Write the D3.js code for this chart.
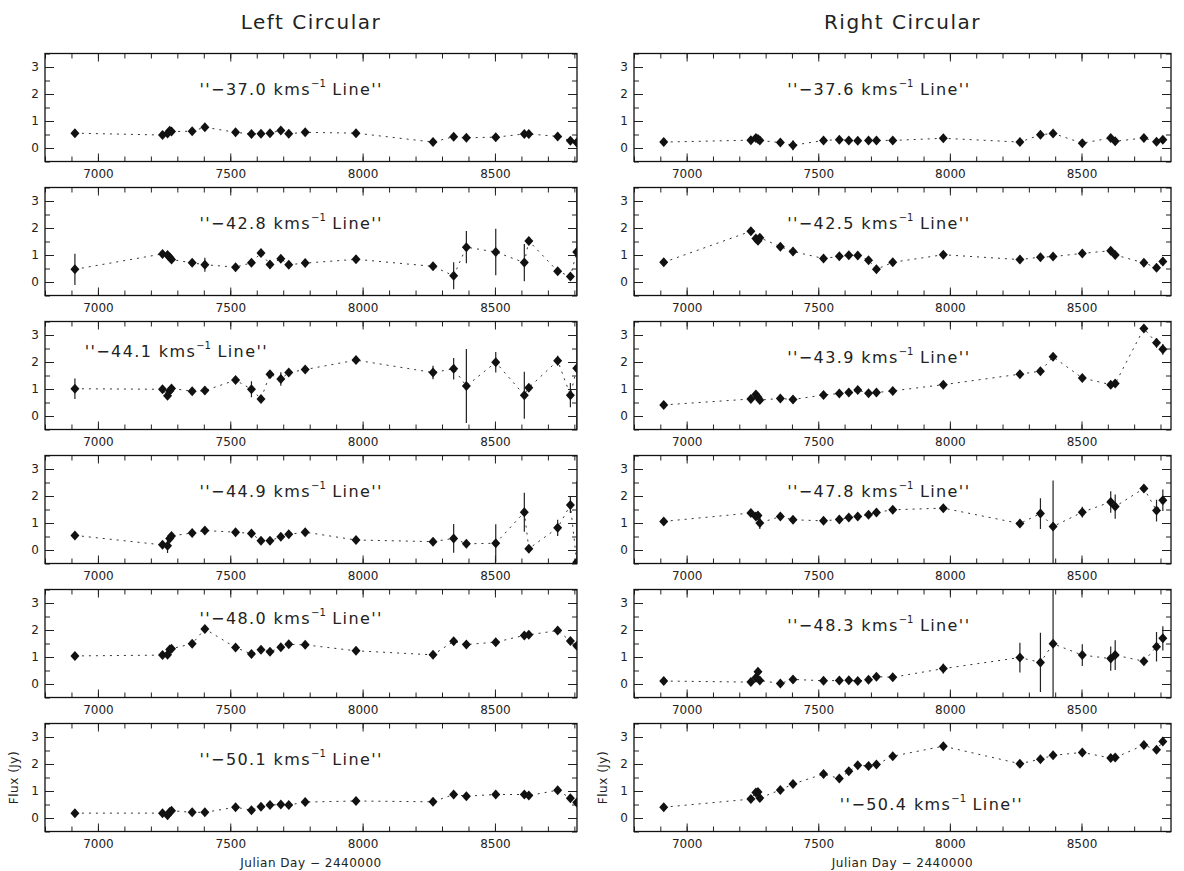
<!DOCTYPE html>
<html>
<head>
<meta charset="utf-8">
<script src="https://cdn.jsdelivr.net/npm/d3@7"></script>
<style>
  body { margin: 0; background: #fff; }
  svg { display: block; }
  text { font-family: "DejaVu Sans", "Liberation Sans", sans-serif; fill: #222; }
</style>
</head>
<body>
<svg id="chart" width="1184" height="871"></svg>
<script>
// Observation epochs (Julian Day - 2440000), shared by every maser line
const julianDays = [6913, 7244, 7263, 7271, 7278, 7356, 7404, 7520, 7580, 7616, 7650, 7691,
                    7721, 7783, 7975, 8266, 8344, 8392, 8503, 8611, 8628, 8737, 8785, 8809];

// Left circular polarisation: flux (Jy) and 1-sigma errors (0 = bar hidden under marker)
const lcp37_0 = [0.55, 0.48, 0.54, 0.64, 0.61, 0.62, 0.77, 0.58, 0.52, 0.53, 0.55, 0.65,
                 0.53, 0.58, 0.55, 0.22, 0.42, 0.38, 0.40, 0.52, 0.52, 0.43, 0.27, 0.20];
const lcp37_0err = new Array(24).fill(0);

const lcp42_8 = [0.47, 1.04, 1.00, 0.92, 0.83, 0.71, 0.64, 0.55, 0.71, 1.07, 0.65, 0.86,
                 0.64, 0.70, 0.84, 0.58, 0.23, 1.29, 1.11, 0.72, 1.52, 0.40, 0.20, 1.11];
const lcp42_8err = [0.58, 0, 0, 0, 0, 0, 0.26, 0, 0, 0, 0, 0,
                    0, 0, 0, 0.12, 0.50, 0.60, 0.86, 0.69, 0, 0, 0, 3.0];

const lcp44_1 = [1.01, 0.99, 0.75, 0.93, 1.02, 0.92, 0.94, 1.33, 0.99, 0.63, 1.55, 1.37,
                 1.61, 1.72, 2.07, 1.61, 1.75, 1.11, 1.99, 0.77, 1.05, 2.05, 0.77, 1.77];
const lcp44_1err = [0.38, 0, 0, 0, 0, 0, 0, 0, 0.30, 0.15, 0, 0.25,
                    0, 0, 0, 0.25, 0.40, 1.37, 0.38, 0.87, 0, 0.18, 0.45, 3.0];

const lcp44_9 = [0.54, 0.19, 0.16, 0.43, 0.52, 0.63, 0.72, 0.66, 0.61, 0.34, 0.34, 0.49,
                 0.58, 0.66, 0.37, 0.31, 0.43, 0.23, 0.25, 1.40, 0.05, 0.82, 1.67, -0.45];
const lcp44_9err = [0, 0, 0.27, 0, 0, 0, 0, 0, 0, 0, 0, 0,
                    0, 0, 0, 0, 0.53, 0, 0.70, 0.72, 0, 0.30, 0.30, 3.0];

const lcp48_0 = [1.04, 1.07, 1.08, 1.28, 1.31, 1.49, 2.04, 1.35, 1.11, 1.27, 1.19, 1.36,
                 1.47, 1.45, 1.23, 1.08, 1.58, 1.46, 1.55, 1.80, 1.82, 1.98, 1.59, 1.42];
const lcp48_0err = new Array(24).fill(0);

const lcp50_1 = [0.18, 0.18, 0.10, 0.22, 0.27, 0.21, 0.21, 0.40, 0.29, 0.42, 0.48, 0.50,
                 0.48, 0.59, 0.63, 0.60, 0.87, 0.81, 0.87, 0.87, 0.83, 1.03, 0.73, 0.57];
const lcp50_1err = new Array(24).fill(0);

// Right circular polarisation
const rcp37_6 = [0.22, 0.29, 0.37, 0.33, 0.28, 0.20, 0.10, 0.28, 0.31, 0.28, 0.27, 0.28,
                 0.28, 0.28, 0.36, 0.22, 0.49, 0.54, 0.18, 0.37, 0.25, 0.37, 0.23, 0.31];
const rcp37_6err = [0, 0, 0, 0, 0, 0, 0.18, 0, 0, 0, 0, 0,
                    0, 0, 0, 0, 0, 0, 0, 0, 0, 0, 0, 0];

const rcp42_5 = [0.73, 1.88, 1.61, 1.53, 1.64, 1.31, 1.13, 0.87, 0.95, 0.99, 0.98, 0.81,
                 0.47, 0.73, 1.01, 0.83, 0.92, 0.94, 1.06, 1.16, 1.00, 0.71, 0.53, 0.76];
const rcp42_5err = [0, 0, 0, 0, 0, 0, 0.15, 0, 0, 0, 0, 0,
                    0, 0, 0, 0, 0, 0, 0, 0, 0, 0, 0, 0.15];

const rcp43_9 = [0.41, 0.63, 0.80, 0.69, 0.59, 0.65, 0.61, 0.78, 0.83, 0.87, 0.96, 0.84,
                 0.87, 0.93, 1.16, 1.55, 1.66, 2.19, 1.41, 1.16, 1.20, 3.24, 2.71, 2.47];
const rcp43_9err = [0, 0, 0, 0, 0, 0, 0, 0, 0, 0, 0, 0,
                    0, 0, 0, 0, 0, 0, 0, 0, 0, 0, 0.18, 0.20];

const rcp47_8 = [1.06, 1.37, 1.24, 1.28, 1.00, 1.24, 1.12, 1.08, 1.13, 1.20, 1.24, 1.31,
                 1.39, 1.49, 1.55, 0.98, 1.35, 0.87, 1.40, 1.78, 1.61, 2.28, 1.46, 1.84];
const rcp47_8err = [0, 0, 0, 0, 0.22, 0, 0, 0, 0, 0, 0, 0,
                    0, 0, 0, 0, 0.57, 1.70, 0.20, 0.40, 0.45, 0, 0.40, 0.40];

const rcp48_3 = [0.11, 0.07, 0.23, 0.45, 0.13, 0.02, 0.17, 0.12, 0.13, 0.14, 0.11, 0.16,
                 0.27, 0.25, 0.57, 0.98, 0.80, 1.49, 1.07, 0.94, 1.07, 0.84, 1.38, 1.69];
const rcp48_3err = [0, 0, 0, 0.15, 0, 0, 0, 0, 0, 0, 0, 0,
                    0, 0, 0.18, 0.55, 1.10, 3.0, 0.40, 0.45, 0.55, 0, 0.55, 0.45];

const rcp50_4 = [0.40, 0.70, 0.94, 0.96, 0.74, 1.04, 1.26, 1.63, 1.46, 1.73, 1.95, 1.93,
                 1.98, 2.29, 2.66, 2.01, 2.18, 2.32, 2.43, 2.22, 2.24, 2.70, 2.53, 2.83];
const rcp50_4err = new Array(24).fill(0);

// Axis tick values
const xMajorTicks = [7000, 7500, 8000, 8500];
const xMinorTicks = d3.range(6800, 8900, 100);
const yMajorTicks = [0, 1, 2, 3];
const yMinorTicks = [-0.5, 0.5, 1.5, 2.5, 3.5];

const columnTitles = ["Left Circular", "Right Circular"];
const xAxisTitle = "Julian Day \u2212 2440000";
const yAxisTitle = "Flux (Jy)";

// Panels: velocity label, series, and where the label sits (in data units)
const columns = [
  [
    { vel: "\u221237.0", flux: lcp37_0, err: lcp37_0err, lx: 7730, ly: 2.2, anchor: "middle" },
    { vel: "\u221242.8", flux: lcp42_8, err: lcp42_8err, lx: 7730, ly: 2.2, anchor: "middle" },
    { vel: "\u221244.1", flux: lcp44_1, err: lcp44_1err, lx: 6950, ly: 2.4, anchor: "start" },
    { vel: "\u221244.9", flux: lcp44_9, err: lcp44_9err, lx: 7730, ly: 2.2, anchor: "middle" },
    { vel: "\u221248.0", flux: lcp48_0, err: lcp48_0err, lx: 7730, ly: 2.45, anchor: "middle" },
    { vel: "\u221250.1", flux: lcp50_1, err: lcp50_1err, lx: 7730, ly: 2.2, anchor: "middle" }
  ],
  [
    { vel: "\u221237.6", flux: rcp37_6, err: rcp37_6err, lx: 7730, ly: 2.2, anchor: "middle" },
    { vel: "\u221242.5", flux: rcp42_5, err: rcp42_5err, lx: 7730, ly: 2.2, anchor: "middle" },
    { vel: "\u221243.9", flux: rcp43_9, err: rcp43_9err, lx: 7730, ly: 2.2, anchor: "middle" },
    { vel: "\u221247.8", flux: rcp47_8, err: rcp47_8err, lx: 7730, ly: 2.2, anchor: "middle" },
    { vel: "\u221248.3", flux: rcp48_3, err: rcp48_3err, lx: 7730, ly: 2.2, anchor: "middle" },
    { vel: "\u221250.4", flux: rcp50_4, err: rcp50_4err, lx: 7930, ly: 0.52, anchor: "middle" }
  ]
];

// Layout
const colFrames = [
  { x0: 45, x1: 577, domain: [6800, 8810] },
  { x0: 634, x1: 1171, domain: [6800, 8840] }
];
const rowTop = 53.5, rowPitch = 134, panelH = 108;
const yDomain = [-0.5, 3.5];
const diamond = "M0,-5L4.5,0L0,5L-4.5,0Z";

const svg = d3.select("#chart");

columnTitles.forEach((t, c) => {
  svg.append("text")
    .attr("x", (colFrames[c].x0 + colFrames[c].x1) / 2)
    .attr("y", 29)
    .attr("text-anchor", "middle")
    .style("font-size", "20px")
    .style("letter-spacing", "1.5px")
    .text(t);
});

columns.forEach((panels, c) => {
  const fr = colFrames[c];
  const x = d3.scaleLinear().domain(fr.domain).range([fr.x0, fr.x1]);
  panels.forEach((p, r) => {
    const top = rowTop + r * rowPitch;
    const y = d3.scaleLinear().domain(yDomain).range([top + panelH, top]);
    const g = svg.append("g");
    const clipId = `clip-${c}-${r}`;
    g.append("clipPath").attr("id", clipId)
      .append("rect").attr("x", fr.x0).attr("y", top)
      .attr("width", fr.x1 - fr.x0).attr("height", panelH);

    // Axes: inward ticks on all four sides
    const bottomMinor = d3.axisBottom(x).tickValues(xMinorTicks).tickSize(-5).tickSizeOuter(0).tickFormat("");
    const bottomMajor = d3.axisBottom(x).tickValues(xMajorTicks).tickSize(-8).tickSizeOuter(0).tickPadding(8).tickFormat(d3.format("d"));
    const topMinor = d3.axisTop(x).tickValues(xMinorTicks).tickSize(-5).tickSizeOuter(0).tickFormat("");
    const topMajor = d3.axisTop(x).tickValues(xMajorTicks).tickSize(-8).tickSizeOuter(0).tickFormat("");
    const leftMinor = d3.axisLeft(y).tickValues(yMinorTicks).tickSize(-5).tickSizeOuter(0).tickFormat("");
    const leftMajor = d3.axisLeft(y).tickValues(yMajorTicks).tickSize(-9).tickSizeOuter(0).tickPadding(6).tickFormat(d3.format("d"));
    const rightMinor = d3.axisRight(y).tickValues(yMinorTicks).tickSize(-5).tickSizeOuter(0).tickFormat("");
    const rightMajor = d3.axisRight(y).tickValues(yMajorTicks).tickSize(-9).tickSizeOuter(0).tickFormat("");

    const axes = [
      [bottomMinor, `translate(0,${top + panelH})`], [bottomMajor, `translate(0,${top + panelH})`],
      [topMinor, `translate(0,${top})`], [topMajor, `translate(0,${top})`],
      [leftMinor, `translate(${fr.x0},0)`], [leftMajor, `translate(${fr.x0},0)`],
      [rightMinor, `translate(${fr.x1},0)`], [rightMajor, `translate(${fr.x1},0)`]
    ];
    axes.forEach(([ax, tr]) => {
      const a = g.append("g").attr("transform", tr).call(ax);
      a.select(".domain").remove();
      a.selectAll(".tick line").attr("stroke", "#222").attr("stroke-width", 1);
      a.selectAll(".tick text").style("font-size", "12px").style("font-family", "\"DejaVu Sans\", sans-serif").attr("fill", "#222");
    });

    g.append("rect")
      .attr("x", fr.x0).attr("y", top)
      .attr("width", fr.x1 - fr.x0).attr("height", panelH)
      .attr("fill", "none").attr("stroke", "#111").attr("stroke-width", 1.3);

    const pts = julianDays.map((d, i) => ({ d, f: p.flux[i], e: p.err[i] }));
    const marks = g.append("g").attr("clip-path", `url(#${clipId})`);

    marks.append("path")
      .datum(pts)
      .attr("fill", "none")
      .attr("stroke", "#333")
      .attr("stroke-width", 1)
      .attr("stroke-dasharray", "2,5")
      .attr("d", d3.line().x(q => x(q.d)).y(q => y(q.f)));

    marks.selectAll("line.err")
      .data(pts.filter(q => q.e > 0))
      .join("line")
      .attr("class", "err")
      .attr("x1", q => x(q.d)).attr("x2", q => x(q.d))
      .attr("y1", q => y(q.f - q.e)).attr("y2", q => y(q.f + q.e))
      .attr("stroke", "#222").attr("stroke-width", 1.2);

    marks.selectAll("path.pt")
      .data(pts)
      .join("path")
      .attr("class", "pt")
      .attr("d", diamond)
      .attr("transform", q => `translate(${x(q.d)},${y(q.f)})`)
      .attr("fill", "#111");

    const lbl = g.append("text")
      .attr("x", x(p.lx)).attr("y", y(p.ly))
      .attr("text-anchor", p.anchor)
      .attr("dominant-baseline", "central")
      .style("font-size", "16px")
      .style("letter-spacing", "1.4px")
      .attr("fill", "#333");
    lbl.append("tspan").text(`''${p.vel} kms`);
    lbl.append("tspan").attr("dy", -6).style("font-size", "10px").style("letter-spacing", "0px").text("\u22121");
    lbl.append("tspan").attr("dy", 6).text(" Line''");

    if (r === panels.length - 1) {
      svg.append("text")
        .attr("transform", `translate(${fr.x0 - 31},${top + panelH / 2}) rotate(-90)`)
        .attr("text-anchor", "middle")
        .attr("dominant-baseline", "central")
        .style("font-size", "12px")
        .style("letter-spacing", "0.5px")
        .text(yAxisTitle);
      svg.append("text")
        .attr("x", (fr.x0 + fr.x1) / 2)
        .attr("y", top + panelH + 35)
        .attr("text-anchor", "middle")
        .style("font-size", "12px")
        .style("letter-spacing", "0.5px")
        .text(xAxisTitle);
    }
  });
});
</script>
</body>
</html>
